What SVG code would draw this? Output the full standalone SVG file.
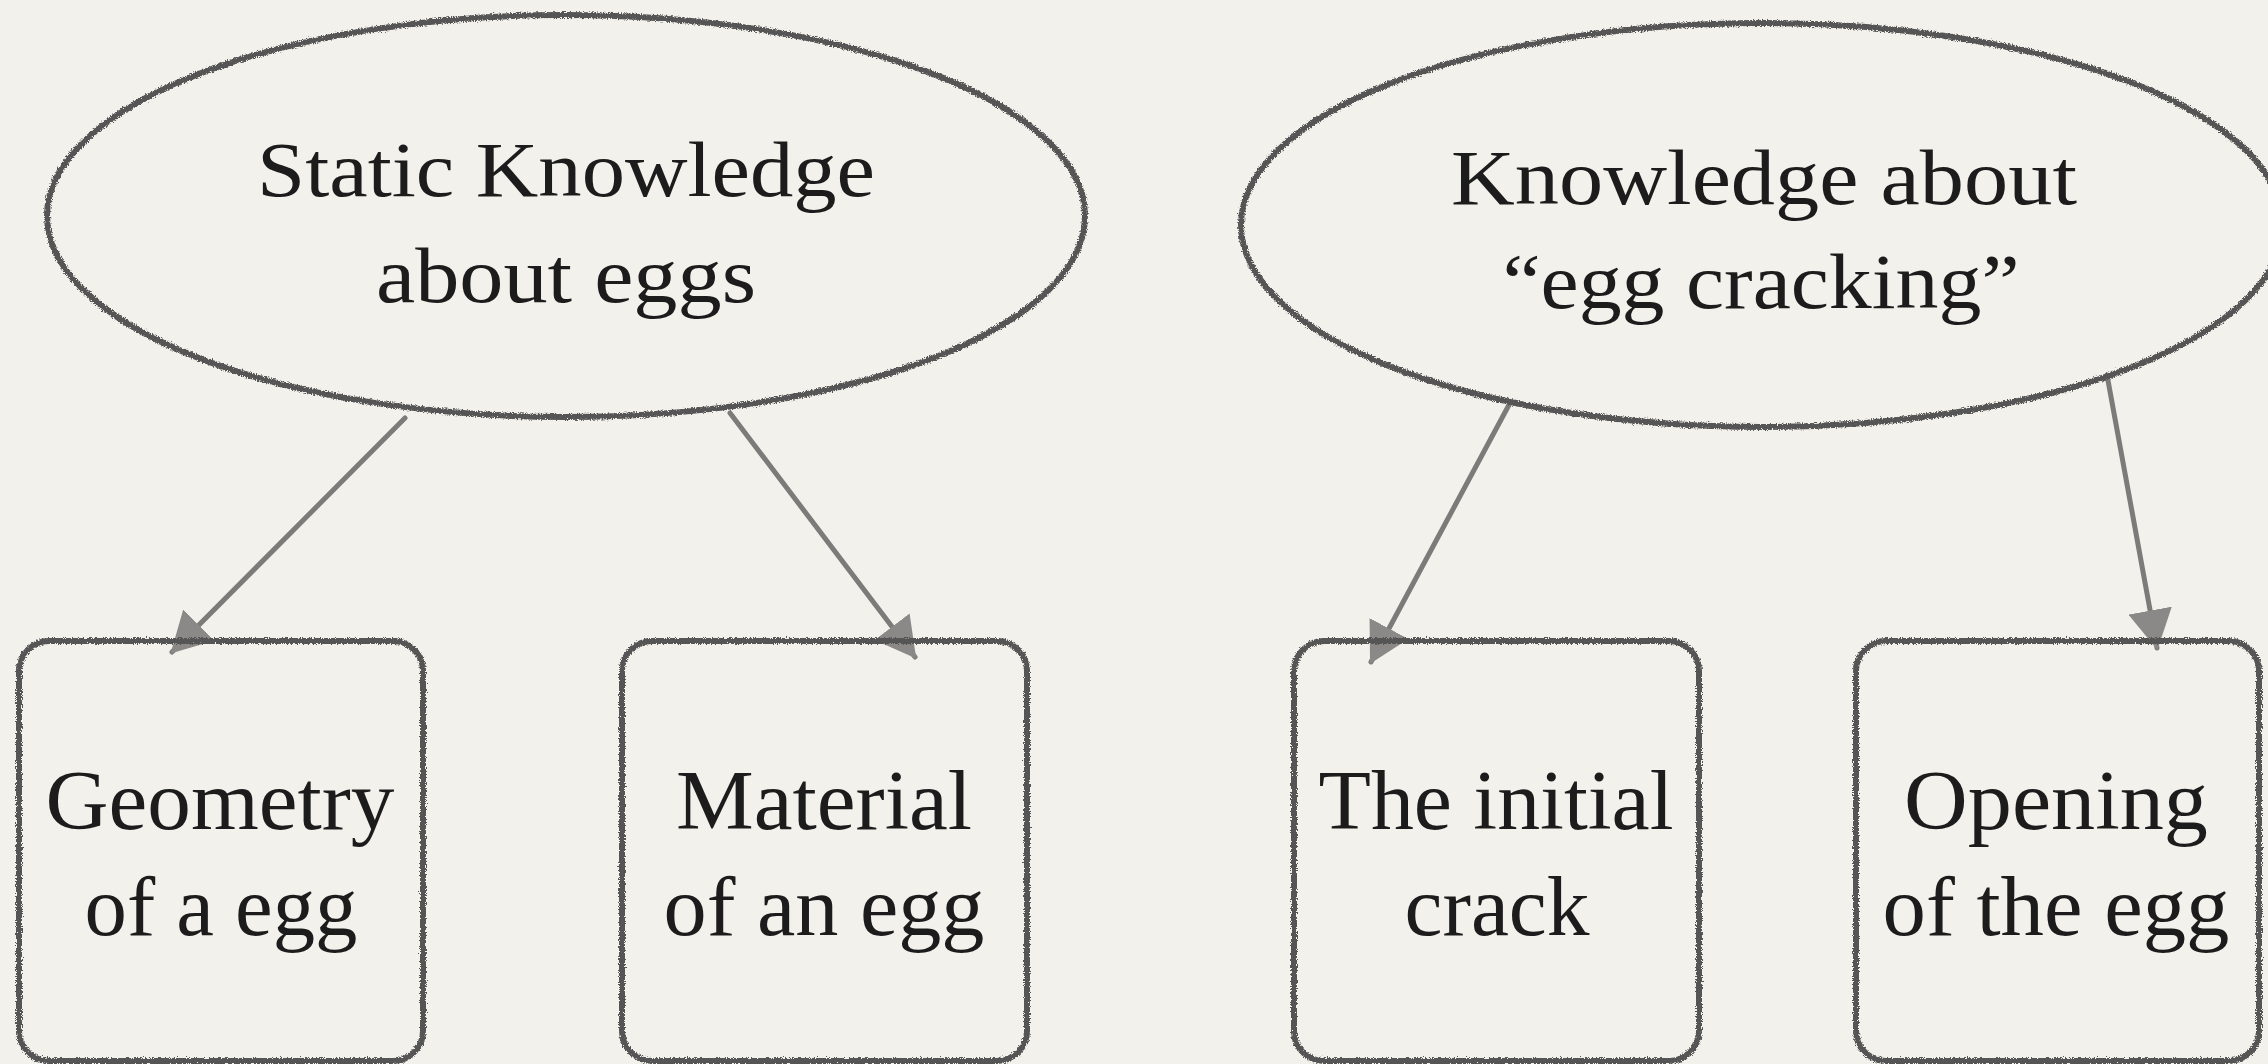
<svg xmlns="http://www.w3.org/2000/svg" width="2268" height="1064" viewBox="0 0 2268 1064">
<style>
.node{fill:none;stroke:#565554;stroke-width:6;filter:url(#rough)}
.lbl{font-family:"Liberation Serif","Times New Roman",serif;fill:#1c1c1c;text-anchor:middle}
.e{font-size:78px}
.b{font-size:85px}
.conn{stroke:#7c7b79;stroke-width:5;fill:none;stroke-linecap:round}
</style>
<defs>
<filter id="rough" x="-5%" y="-5%" width="110%" height="110%">
<feTurbulence type="fractalNoise" baseFrequency="0.8" numOctaves="2" seed="3" result="n"/>
<feDisplacementMap in="SourceGraphic" in2="n" scale="5" xChannelSelector="R" yChannelSelector="G"/>
</filter>
<marker id="ah" viewBox="0 0 40 44" refX="38" refY="22" markerWidth="40" markerHeight="44" markerUnits="userSpaceOnUse" orient="auto">
<path d="M0,0 L40,22 L0,44 Z" fill="#8a8987"/>
</marker>
</defs>
<rect width="2268" height="1064" fill="#f3f1ec"/>
<g id="connectors">
<line class="conn" x1="405" y1="418" x2="172" y2="652" marker-end="url(#ah)"/>
<line class="conn" x1="730" y1="413" x2="915" y2="657" marker-end="url(#ah)"/>
<line class="conn" x1="1510" y1="403" x2="1371" y2="662" marker-end="url(#ah)"/>
<line class="conn" x1="2107" y1="375" x2="2157" y2="648" marker-end="url(#ah)"/>
</g>
<g id="static-knowledge">
<ellipse class="node" cx="566" cy="216" rx="519" ry="201"/>
<text class="lbl e" x="566" y="196" textLength="618" lengthAdjust="spacingAndGlyphs">Static Knowledge</text>
<text class="lbl e" x="566" y="302" textLength="380" lengthAdjust="spacingAndGlyphs">about eggs</text>
</g>
<g id="egg-cracking">
<ellipse class="node" cx="1762" cy="225" rx="521" ry="202"/>
<text class="lbl e" x="1764" y="204" textLength="626" lengthAdjust="spacingAndGlyphs">Knowledge about</text>
<text class="lbl e" x="1761" y="308" textLength="517" lengthAdjust="spacingAndGlyphs">“egg cracking”</text>
</g>
<g id="geometry">
<rect class="node" x="19" y="641" width="404" height="420" rx="30"/>
<text class="lbl b" x="220" y="829" textLength="349" lengthAdjust="spacingAndGlyphs">Geometry</text>
<text class="lbl b" x="221" y="935" textLength="273" lengthAdjust="spacingAndGlyphs">of a egg</text>
</g>
<g id="material">
<rect class="node" x="622" y="641" width="405" height="420" rx="30"/>
<text class="lbl b" x="824" y="829" textLength="296" lengthAdjust="spacingAndGlyphs">Material</text>
<text class="lbl b" x="824" y="935" textLength="321" lengthAdjust="spacingAndGlyphs">of an egg</text>
</g>
<g id="initial-crack">
<rect class="node" x="1294" y="641" width="405" height="420" rx="30"/>
<text class="lbl b" x="1496" y="829" textLength="355" lengthAdjust="spacingAndGlyphs">The initial</text>
<text class="lbl b" x="1497" y="935" textLength="185" lengthAdjust="spacingAndGlyphs">crack</text>
</g>
<g id="opening">
<rect class="node" x="1856" y="641" width="403" height="420" rx="30"/>
<text class="lbl b" x="2056" y="829" textLength="304" lengthAdjust="spacingAndGlyphs">Opening</text>
<text class="lbl b" x="2056" y="935" textLength="347" lengthAdjust="spacingAndGlyphs">of the egg</text>
</g>
</svg>
